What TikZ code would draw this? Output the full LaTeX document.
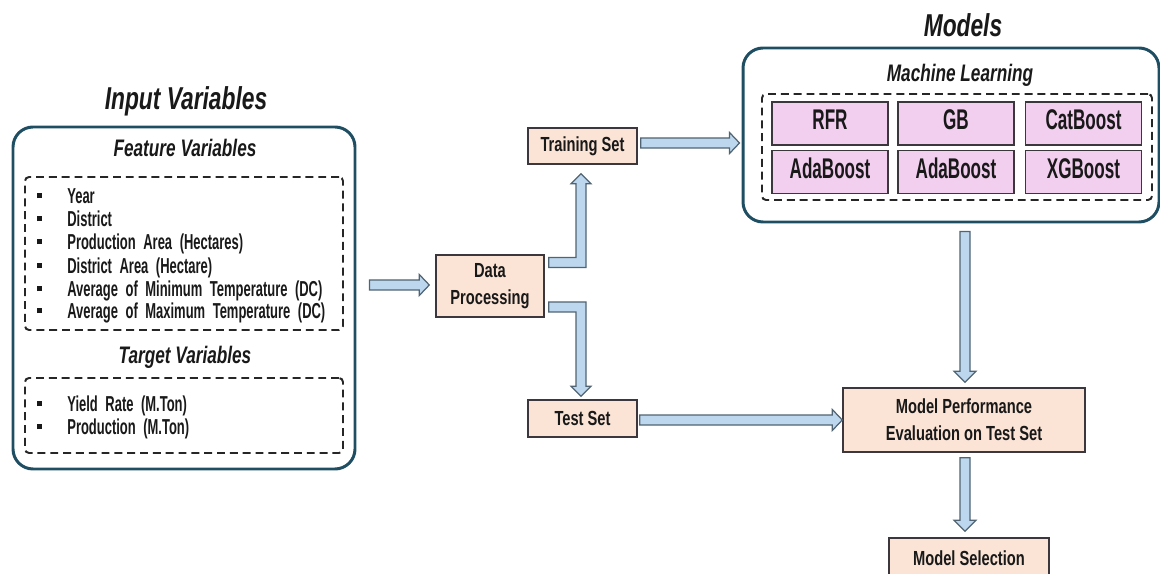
\documentclass[tikz,border=0pt]{standalone}
\usepackage{fontspec}
\setmainfont{Liberation Sans}[FakeStretch=0.72]
\newfontfamily\condfont{Liberation Sans}[FakeStretch=0.6]
\usetikzlibrary{calc,fit}
\definecolor{frame}{RGB}{31,78,99}
\definecolor{ink}{RGB}{25,25,25}
\definecolor{peach}{RGB}{251,228,214}
\definecolor{pinkfill}{RGB}{242,206,239}
\definecolor{boxline}{RGB}{60,55,60}
\definecolor{arrfill}{RGB}{189,215,238}
\definecolor{arrline}{RGB}{80,100,115}
\newcommand\harrow[2]{\draw[barrow] ($(#1)+(0,-5)$) -- ($(#2)+(-10,-5)$) -- ($(#2)+(-10,-10.5)$) -- (#2) -- ($(#2)+(-10,10.5)$) -- ($(#2)+(-10,5)$) -- ($(#1)+(0,5)$) -- cycle;}
\newcommand\varrow[2]{\draw[barrow] ($(#1)+(-5,0)$) -- ($(#2)+(-5,-11)$) -- ($(#2)+(-11,-11)$) -- (#2) -- ($(#2)+(11,-11)$) -- ($(#2)+(5,-11)$) -- ($(#1)+(5,0)$) -- cycle;}
\newcommand\bulsq{\makebox[6mm][l]{\rule[\dimexpr0.36em-0.5mm\relax]{1mm}{1mm}}}
\newcommand\itmfont{\condfont\fontsize{12.3}{13}\selectfont\bfseries\spaceskip=0.35em\relax}
\tikzset{
 outerbox/.style={draw=frame, line width=1.7pt, rounded corners=4mm, inner sep=0},
 dbox/.style={draw=black!85, line width=1.1pt, dash pattern=on 4.5pt off 2.8pt, rounded corners=0.8mm, inner sep=0},
 pbox/.style={draw=boxline, fill=peach, line width=0.8pt, font=\fontsize{11.6}{15.5}\selectfont\bfseries, text=ink, align=center, inner sep=0},
 mbox/.style={draw=boxline, fill=pinkfill, line width=0.8pt, minimum width=23.2mm, minimum height=8.6mm, font=\condfont\fontsize{16.2}{18}\selectfont\bfseries, text=ink, inner sep=0, text height=0.72em, text depth=0pt},
 barrow/.style={draw=arrline, fill=arrfill, line width=0.7pt, line join=miter},
 ttl/.style={font=\fontsize{18}{20}\selectfont\bfseries\itshape, text=ink, inner sep=0, text height=0.72em, text depth=0pt},
 subttl/.style={font=\fontsize{13.6}{16}\selectfont\bfseries\itshape, text=ink, inner sep=0, text height=0.72em, text depth=0pt},
 itm/.style={anchor=west, font=\itmfont, text=ink, inner sep=0, text height=0.72em, text depth=0pt},
}
\begin{document}
\begin{tikzpicture}[x=0.2mm,y=-0.2mm]
\useasboundingbox (0,0) rectangle (1160,574);
% Input variables
\node[ttl] (tin) at (186,103) {Input Variables};
\node[outerbox, fit={(13,127) (355,469)}] (inbox) {};
\node[subttl] (tfeat) at (185,150) {Feature Variables};
\node[dbox, fit={(25,177) (343,330)}] (dfeat) {};
\node[itm] (f1) at (37,197) {\bulsq Year};
\node[itm] (f2) at (37,220) {\bulsq District};
\node[itm] (f3) at (37,243) {\bulsq Production Area (Hectares)};
\node[itm] (f4) at (37,267) {\bulsq District Area (Hectare)};
\node[itm] (f5) at (37,290) {\bulsq Average of Minimum Temperature (DC)};
\node[itm] (f6) at (37,312) {\bulsq Average of Maximum Temperature (DC)};
\node[subttl] (ttarg) at (185,357) {Target Variables};
\node[dbox, fit={(25,378) (343,453)}] (dtarg) {};
\node[itm] (g1) at (37,405) {\bulsq Yield Rate (M.Ton)};
\node[itm] (g2) at (37,428) {\bulsq Production (M.Ton)};
% middle boxes
\node[pbox, minimum width=21.6mm, minimum height=12.4mm] (dp) at (490,286) {Data\\Processing};
\node[pbox, minimum width=21.8mm, minimum height=7.2mm] (ts) at (582.5,146) {Training Set};
\node[pbox, minimum width=21.8mm, minimum height=7.4mm] (test) at (582.5,418.5) {Test Set};
% models
\node[ttl] (tmod) at (963,30) {Models};
\node[outerbox, fit={(743,48) (1159,222)}] (models) {};
\node[subttl] (tml) at (960,75) {Machine Learning};
\node[dbox, fit={(762,94) (1152,200)}] (dml) {};
\node[mbox] (m1) at (830,123.5) {RFR};
\node[mbox] (m2) at (956,123.5) {GB};
\node[mbox] (m3) at (1083.5,123.5) {CatBoost};
\node[mbox] (m4) at (830,172) {AdaBoost};
\node[mbox] (m5) at (956,172) {AdaBoost};
\node[mbox] (m6) at (1083.5,172) {XGBoost};
% evaluation
\node[pbox, minimum width=48.4mm, minimum height=12.8mm] (mpe) at (964,420) {Model Performance\\Evaluation on Test Set};
\node[pbox, minimum width=32mm, minimum height=8mm] (sel) at (969,558) {Model Selection};
% arrows
\coordinate (a1s) at ($(inbox.east |- dp.west)+(13,-1)$);
\coordinate (a1e) at ($(dp.west)+(-6,-1)$);
\harrow{a1s}{a1e}
\coordinate (a2s) at ($(ts.east)+(3,-3)$);
\coordinate (a2e) at ($(models.west |- a2s)+(-2,0)$);
\harrow{a2s}{a2e}
\coordinate (a3s) at ($(test.east)+(2,1.5)$);
\coordinate (a3e) at (mpe.west |- a3s);
\harrow{a3s}{a3e}
\coordinate (a4s) at ($(mpe.north |- models.south)+(1,8)$);
\coordinate (a4e) at ($(mpe.north)+(1,-5)$);
\varrow{a4s}{a4e}
\coordinate (a5s) at ($(mpe.south)+(1,5)$);
\coordinate (a5e) at ($(mpe.south |- sel.north)+(1,-6)$);
\varrow{a5s}{a5e}
\coordinate (e1s) at ($(dp.east)+(4,-23.5)$);
\coordinate (e1t) at ($(ts.south)+(-1.5,9)$);
\draw[barrow] ($(e1s)+(0,-5)$) -- ($(e1t |- e1s)+(-5,-5)$) -- ($(e1t)+(-5,10)$) -- ($(e1t)+(-10,10)$) -- (e1t) -- ($(e1t)+(10,10)$) -- ($(e1t)+(5,10)$) -- ($(e1t |- e1s)+(5,5)$) -- ($(e1s)+(0,5)$) -- cycle;
\coordinate (e2s) at ($(dp.east)+(4,21)$);
\coordinate (e2t) at ($(test.north)+(-1.5,-3)$);
\draw[barrow] ($(e2s)+(0,-5)$) -- ($(e2t |- e2s)+(5,-5)$) -- ($(e2t)+(5,-10)$) -- ($(e2t)+(10,-10)$) -- (e2t) -- ($(e2t)+(-10,-10)$) -- ($(e2t)+(-5,-10)$) -- ($(e2t |- e2s)+(-5,5)$) -- ($(e2s)+(0,5)$) -- cycle;
\end{tikzpicture}
\end{document}
